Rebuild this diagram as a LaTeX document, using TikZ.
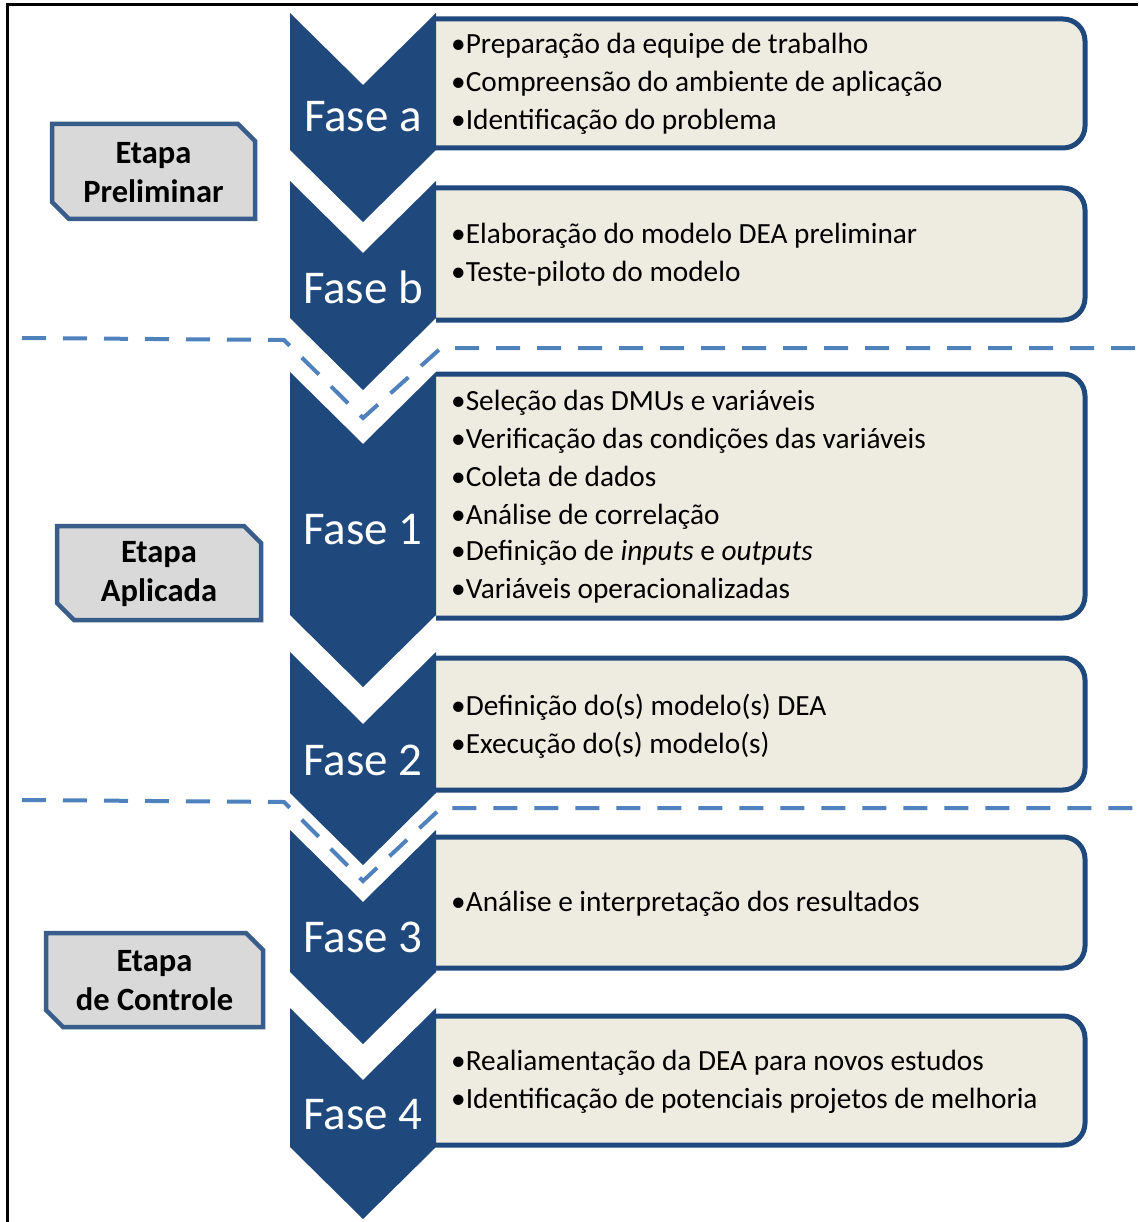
\documentclass[tikz,border=0pt]{standalone}
\usepackage{fontspec}
\setmainfont{Carlito}
\definecolor{navy}{RGB}{31,73,125}
\definecolor{boxfill}{RGB}{238,236,225}
\definecolor{dashblue}{RGB}{79,129,189}
\definecolor{etapafill}{RGB}{217,217,217}
\definecolor{etapaborder}{RGB}{56,93,138}
\tikzset{
  chev/.style={fill=navy},
  phasebox/.style={fill=boxfill},
  phaseline/.style={draw=navy,line width=5pt},
  phaselabel/.style={text=white,font=\fontsize{47}{50}\selectfont,inner sep=0pt},
  bullet/.style={anchor=base west,inner sep=0pt,font=\fontsize{29.3}{34}\selectfont},
  etapa/.style={fill=etapafill,draw=etapaborder,line width=4.5pt,line join=miter},
  etapalabel/.style={font=\fontsize{32.5}{39}\selectfont\bfseries,align=center,inner sep=0pt},
  sep/.style={draw=dashblue,line width=4pt,dash pattern=on 24pt off 17pt}
}
\newcommand{\phase}[4]{% name, top, bottom, label
  \fill[phasebox] (436,#2) [rounded corners=22pt] -- (1085,#2) -- (1085,#3) [sharp corners] -- (436,#3) -- cycle;
  \draw[phaseline] (436,#2) [rounded corners=22pt] -- (1085,#2) -- (1085,#3) [sharp corners] -- (436,#3);
}
\newcommand{\chevron}[2]{% top, bottom
  \fill[chev] (290,#1) -- (363,#1+72) -- (436,#1) -- (436,#2) -- (363,#2+72) -- (290,#2) -- cycle;
}
\newcommand{\etapabox}[4]{% x1,y1,x2,y2
  \draw[etapa] (#1,#2) -- (#3-17,#2) -- (#3,#2+17) -- (#3,#4) -- (#1+17,#4) -- (#1,#4-17) -- cycle;
}
\begin{document}
\begin{tikzpicture}[x=1pt,y=-1pt]
\useasboundingbox (0,0) rectangle (1138,1222);
\fill[white] (0,0) rectangle (1138,1222);
\draw[line width=3pt] (7,1222) -- (7,5) -- (1138,5);

% phase boxes
\phase{a}{19}{148}{}
\phase{b}{188}{320}{}
\phase{1}{374}{618}{}
\phase{2}{658}{790}{}
\phase{3}{837}{968}{}
\phase{4}{1016}{1145}{}

% chevrons
\chevron{13}{150}
\chevron{181}{318}
\chevron{372}{615}
\chevron{652}{793}
\chevron{830}{972}
\chevron{1008}{1147}

\node[phaselabel] (fa) at (363,117) {Fase a};
\node[phaselabel] (fb) at (363,287) {Fase b};
\node[phaselabel] (f1) at (363,530) {Fase 1};
\node[phaselabel] (f2) at (363,760) {Fase 2};
\node[phaselabel] (f3) at (363,937) {Fase 3};
\node[phaselabel] (f4) at (363,1115) {Fase 4};

% bullets
\node[bullet] (a1) at (451,54) {•Preparação da equipe de trabalho};
\node[bullet] (a2) at (451,92) {•Compreensão do ambiente de aplicação};
\node[bullet] (a3) at (451,130) {•Identificação do problema};
\node[bullet] (b1) at (451,244) {•Elaboração do modelo DEA preliminar};
\node[bullet] (b2) at (451,282) {•Teste-piloto do modelo};
\node[bullet] (c1) at (451,410) {•Seleção das DMUs e variáveis};
\node[bullet] (c2) at (451,448) {•Verificação das condições das variáveis};
\node[bullet] (c3) at (451,486) {•Coleta de dados};
\node[bullet] (c4) at (451,524) {•Análise de correlação};
\node[bullet] (c5) at (451,560) {•Definição de \textit{inputs} e \textit{outputs}};
\node[bullet] (c6) at (451,598) {•Variáveis operacionalizadas};
\node[bullet] (d1) at (451,715) {•Definição do(s) modelo(s) DEA};
\node[bullet] (d2) at (451,753) {•Execução do(s) modelo(s)};
\node[bullet] (e1) at (451,911) {•Análise e interpretação dos resultados};
\node[bullet] (g1) at (451,1070) {•Realiamentação da DEA para novos estudos};
\node[bullet] (g2) at (451,1108) {•Identificação de potenciais projetos de melhoria};

% separators
\draw[sep] (22,338) -- (284,340) -- (363,418) -- (441,348) -- (1138,348);
\draw[sep] (22,800) -- (284,802) -- (363,881) -- (441,808) -- (1138,808);

% etapa boxes
\etapabox{52}{124}{255}{219}
\etapabox{57}{526}{261}{620}
\etapabox{46}{933}{263}{1027}
\node[etapalabel] (e1l) at (153.5,173) {Etapa\\Preliminar};
\node[etapalabel] (e2l) at (159,574) {Etapa\\Aplicada};
\node[etapalabel] (e3l) at (154.5,981) {Etapa\\de Controle};
\end{tikzpicture}
\end{document}
